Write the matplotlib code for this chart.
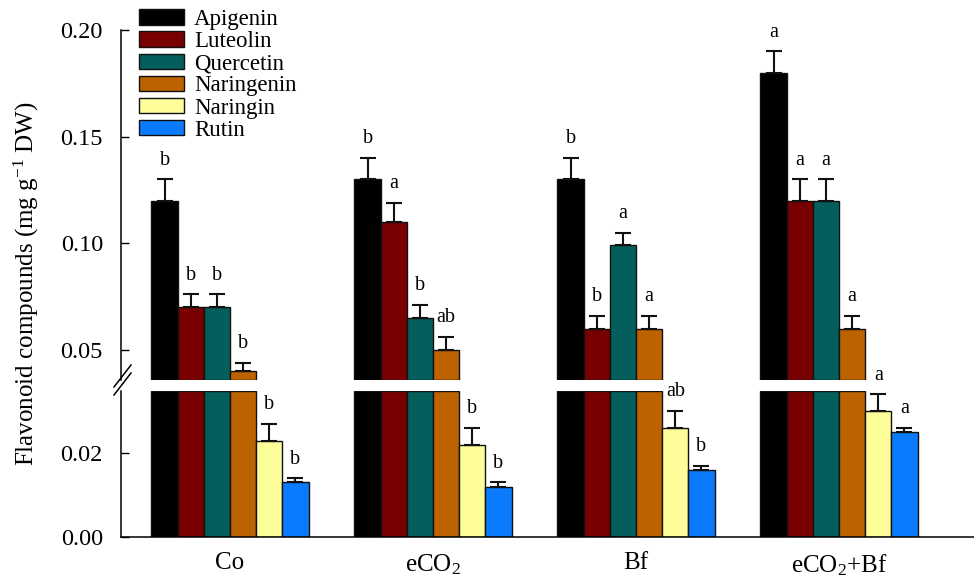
import matplotlib
matplotlib.use('Agg')
import matplotlib.pyplot as plt
import numpy as np
from matplotlib.patches import Patch
from matplotlib.lines import Line2D

plt.rcParams['font.family'] = ['Liberation Serif', 'DejaVu Serif']
plt.rcParams['mathtext.fontset'] = 'custom'
plt.rcParams['mathtext.rm'] = 'Liberation Serif'
plt.rcParams['mathtext.it'] = 'Liberation Serif:italic'

# data
groups = ['Co', 'eCO$_2$', 'Bf', 'eCO$_2$+Bf']
compounds = ['Apigenin', 'Luteolin', 'Quercetin', 'Naringenin', 'Naringin', 'Rutin']
colors = ['#000000', '#780000', '#045f5c', '#bd6200', '#fdfd99', '#0a7bfd']

apigenin = [0.120, 0.130, 0.130, 0.180]
luteolin = [0.070, 0.110, 0.060, 0.120]
quercetin = [0.070, 0.065, 0.099, 0.120]
naringenin = [0.040, 0.050, 0.060, 0.060]
naringin = [0.023, 0.022, 0.026, 0.030]
rutin = [0.013, 0.012, 0.016, 0.025]

apigenin_se = [0.010, 0.010, 0.010, 0.010]
luteolin_se = [0.006, 0.009, 0.006, 0.010]
quercetin_se = [0.006, 0.006, 0.006, 0.010]
naringenin_se = [0.004, 0.006, 0.006, 0.006]
naringin_se = [0.004, 0.004, 0.004, 0.004]
rutin_se = [0.001, 0.001, 0.001, 0.001]

apigenin_let = ['b', 'b', 'b', 'a']
luteolin_let = ['b', 'a', 'b', 'a']
quercetin_let = ['b', 'b', 'a', 'a']
naringenin_let = ['b', 'ab', 'a', 'a']
naringin_let = ['b', 'b', 'ab', 'a']
rutin_let = ['b', 'b', 'b', 'a']

values = [apigenin, luteolin, quercetin, naringenin, naringin, rutin]
errors = [apigenin_se, luteolin_se, quercetin_se, naringenin_se, naringin_se, rutin_se]
letters = [apigenin_let, luteolin_let, quercetin_let, naringenin_let, naringin_let, rutin_let]

lo_top = 0.0348
up_bot = 0.0359

fig = plt.figure(figsize=(9.74, 5.78), dpi=100)
ax_up = fig.add_axes([121/974, 1-380/578, 853/974, 350/578])
ax_lo = fig.add_axes([121/974, 1-537/578, 853/974, 146/578])

x = np.arange(len(groups))
w = 0.129

for i in range(len(compounds)):
    for j in range(len(groups)):
        xi = x[j] + (i - 2.5) * w
        v = values[i][j]
        e = errors[i][j]
        ax_lo.bar(xi, min(v, lo_top), w, color=colors[i], edgecolor='#111111', linewidth=1.0)
        if v > up_bot:
            ax_up.bar(xi, v - up_bot, w, bottom=up_bot, color=colors[i],
                      edgecolor='#111111', linewidth=1.0)
            ax = ax_up
        else:
            ax = ax_lo
        ax.errorbar(xi, v, yerr=[[0], [e]], fmt='none', ecolor='#111111',
                    elinewidth=1.5, capsize=5.5, capthick=1.5)
        ax.annotate(letters[i][j], (xi, v + e), xytext=(0, 7), textcoords='offset points',
                    ha='center', va='bottom', fontsize=14.5, annotation_clip=False)

xlim = (-0.537, 3.665)
for ax in (ax_up, ax_lo):
    ax.set_xlim(*xlim)
    ax.spines['top'].set_visible(False)
    ax.spines['right'].set_visible(False)
    ax.tick_params(axis='y', direction='in', length=6, width=1, labelsize=17.5, pad=13)
    ax.spines['left'].set_linewidth(1.1)

ax_up.set_ylim(up_bot, 0.20)
ax_up.set_yticks([0.05, 0.10, 0.15, 0.20])
ax_up.set_yticklabels(['0.05', '0.10', '0.15', '0.20'])
ax_up.spines['bottom'].set_visible(False)
ax_up.set_xticks([])

ax_lo.set_ylim(0, lo_top)
ax_lo.set_yticks([0.00, 0.02])
ax_lo.set_yticklabels(['0.00', '0.02'])
ax_lo.spines['bottom'].set_linewidth(1.1)
ax_lo.set_xticks(x)
ax_lo.set_xticklabels(groups, fontsize=18)
ax_lo.tick_params(axis='x', length=0, pad=11)

# axis break marks
for dy in (0, 8):
    fig.add_artist(Line2D([114/974, 131/974], [1-(395-dy)/578, 1-(373-dy)/578],
                          color='black', linewidth=1.1))

fig.text(26/974, 1-284/578, 'Flavonoid compounds (mg g$^{-1}$ DW)', rotation=90,
         ha='center', va='center', fontsize=18)

handles = [Patch(facecolor=c, edgecolor='#111111', linewidth=1.0) for c in colors]
fig.legend(handles, compounds, loc='upper left', bbox_to_anchor=(139/974, 1-9/578),
           frameon=False, fontsize=16.5, handlelength=1.95, handleheight=0.65,
           labelspacing=0.05, handletextpad=0.45, borderpad=0, borderaxespad=0)

fig.savefig('out.png', dpi=100)
